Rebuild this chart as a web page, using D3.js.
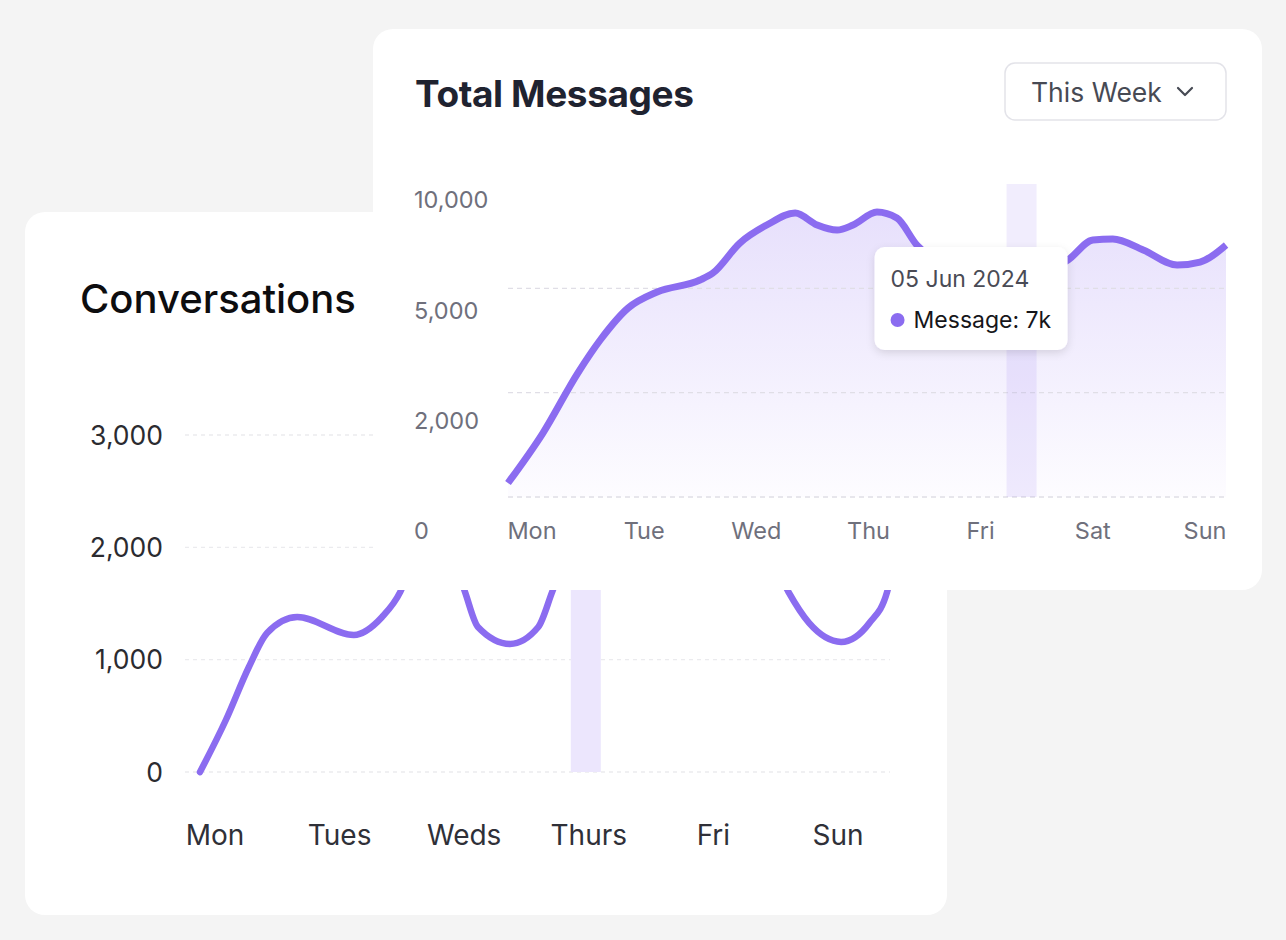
<!DOCTYPE html>
<html>
<head>
<meta charset="utf-8">
<script src="https://cdn.jsdelivr.net/npm/d3@7"></script>
<style>
  html, body { margin: 0; padding: 0; background: #f4f4f4; }
  svg { display: block; font-family: Inter, 'Noto Sans', sans-serif; }
</style>
</head>
<body>
<svg id="chart" width="1286" height="940"></svg>
<script>
// ---- Conversations (back card) ----
const convDays = ['Mon', 'Tues', 'Weds', 'Thurs', 'Fri', 'Sun'];
const convTicks = [0, 1000, 2000, 3000];
// hours from start of week, and value at that time
const convHours  = [0, 5.4, 10.2, 14, 20.3, 32.1, 38, 41.8, 48.4, 55.3, 58, 64.7, 70.6, 73.5, 83.5, 98.1, 110.6, 122.8, 127.1, 133.8, 139.7, 143.4, 144];
const convValues = [0, 463, 935, 1238, 1380, 1220, 1380, 1603, 2500, 1603, 1291, 1140, 1291, 1603, 2800, 2300, 2900, 1603, 1327, 1158, 1327, 1603, 1700];
const convHighlight = 'Thurs';

// ---- Total Messages (front card) ----
const msgDays = ['Mon', 'Tue', 'Wed', 'Thu', 'Fri', 'Sat', 'Sun'];
const msgTickLabels = ['10,000', '5,000', '2,000', '0'];
const msgGridValues = [0, 3000, 6000];
const msgHours  = [0, 7, 14, 18.5, 24.1, 29.9, 38.5, 41.1, 46.5, 51.9, 57.6, 62, 66, 69.2, 74, 78, 82, 88.6, 98.7, 106.7, 112.3, 117.3, 121.3, 127.4, 134.2, 138.8, 144];
const msgValues = [403, 1840, 3565, 4514, 5434, 5894, 6239, 6440, 7303, 7820, 8165, 7820, 7676, 7820, 8194, 8021, 7245, 6600, 6250, 6450, 6814, 7389, 7418, 7101, 6670, 6756, 7245];
const msgHighlightHour = 103;
const tooltipDate = '05 Jun 2024';
const tooltipSeries = 'Message';
const tooltipValue = 7000;
const rangeLabel = 'This Week';

const LINE = '#8b6cf0';
const svg = d3.select('#chart');
const defs = svg.append('defs');

const grad = defs.append('linearGradient')
  .attr('id', 'msgFill').attr('x1', 0).attr('y1', 0).attr('x2', 0).attr('y2', 1);
grad.append('stop').attr('offset', '0%').attr('stop-color', '#e7e0fc');
grad.append('stop').attr('offset', '100%').attr('stop-color', '#fdfcff');

const shadow = defs.append('filter').attr('id', 'tipShadow')
  .attr('x', '-20%').attr('y', '-20%').attr('width', '140%').attr('height', '150%');
shadow.append('feDropShadow')
  .attr('dx', 0).attr('dy', 3).attr('stdDeviation', 4)
  .attr('flood-color', '#000').attr('flood-opacity', 0.12);

// ================= Conversations card =================
const conv = svg.append('g').attr('class', 'conversations');

conv.append('rect')
  .attr('x', 25).attr('y', 212).attr('width', 922).attr('height', 703)
  .attr('rx', 20).attr('fill', '#fff');

conv.append('text')
  .attr('x', 80).attr('y', 313)
  .style('font-size', '40px').style('font-weight', 500).style('fill', '#0d0d0f')
  .text('Conversations');

const yConv = d3.scaleLinear().domain([0, 3000]).range([772, 435]);
const xConv = d3.scaleLinear().domain([0, 144]).range([200, 890]);
const xConvLabel = d3.scalePoint().domain(convDays).range([215, 838]);

conv.append('g').selectAll('line')
  .data(convTicks).enter().append('line')
  .attr('x1', 185).attr('x2', 890)
  .attr('y1', d => yConv(d)).attr('y2', d => yConv(d))
  .attr('stroke', '#ebebee').attr('stroke-width', 1.3)
  .attr('stroke-dasharray', '4 4');

conv.append('g').selectAll('text')
  .data(convTicks).enter().append('text')
  .attr('x', 163).attr('y', d => yConv(d)).attr('dy', '0.36em')
  .attr('text-anchor', 'end')
  .style('font-size', '26.5px').style('fill', '#2b2b30')
  .text(d3.format(','));

conv.append('g').selectAll('text')
  .data(convDays).enter().append('text')
  .attr('x', d => xConvLabel(d)).attr('y', 845)
  .attr('text-anchor', 'middle')
  .style('font-size', '28px').style('fill', '#2f3038')
  .text(d => d);

conv.append('rect')
  .attr('x', xConvLabel(convHighlight) - 18).attr('width', 30)
  .attr('y', yConv(3000)).attr('height', yConv(0) - yConv(3000))
  .attr('fill', '#ece6fd');

const convLine = d3.line()
  .x((d, i) => xConv(convHours[i]))
  .y(d => yConv(d))
  .curve(d3.curveMonotoneX);

conv.append('path')
  .datum(convValues)
  .attr('d', convLine)
  .attr('fill', 'none').attr('stroke', LINE)
  .attr('stroke-width', 6.5).attr('stroke-linecap', 'round').attr('stroke-linejoin', 'round');

// ================= Total Messages card =================
const msg = svg.append('g').attr('class', 'messages');

msg.append('rect')
  .attr('x', 373).attr('y', 29).attr('width', 889).attr('height', 561)
  .attr('rx', 20).attr('fill', '#fff');

msg.append('text')
  .attr('x', 415).attr('y', 107)
  .style('font-size', '37px').style('font-weight', 700).style('fill', '#1f2330')
  .style('letter-spacing', '-0.4px')
  .text('Total Messages');

// dropdown
msg.append('rect')
  .attr('x', 1005).attr('y', 63).attr('width', 221).attr('height', 57)
  .attr('rx', 10).attr('fill', '#fff')
  .attr('stroke', '#e3e3e9').attr('stroke-width', 1.5);
msg.append('text')
  .attr('x', 1031).attr('y', 101.5)
  .style('font-size', '26.5px').style('fill', '#474a54')
  .text(rangeLabel);
msg.append('path')
  .attr('d', 'M1178,88 L1185,95 L1192,88')
  .attr('fill', 'none').attr('stroke', '#474a54')
  .attr('stroke-width', 2.2).attr('stroke-linecap', 'round').attr('stroke-linejoin', 'round');

const yMsg = d3.scaleLinear().domain([0, 9000]).range([497, 184]);
const xMsg = d3.scaleLinear().domain([0, 144]).range([508, 1226]);
const xMsgLabel = d3.scalePoint().domain(msgDays).range([532, 1205]);
const yMsgLabel = d3.scalePoint().domain(msgTickLabels).range([200, 531]);

// area
const msgArea = d3.area()
  .x((d, i) => xMsg(msgHours[i]))
  .y0(yMsg(0))
  .y1(d => yMsg(d))
  .curve(d3.curveMonotoneX);

msg.append('path')
  .datum(msgValues)
  .attr('d', msgArea)
  .attr('fill', 'url(#msgFill)');

msg.append('g').selectAll('line')
  .data(msgGridValues).enter().append('line')
  .attr('x1', 508).attr('x2', 1226)
  .attr('y1', d => yMsg(d)).attr('y2', d => yMsg(d))
  .attr('stroke', '#e0dee6').attr('stroke-width', 1.3)
  .attr('stroke-dasharray', '5 4');

msg.append('g').selectAll('text')
  .data(msgTickLabels).enter().append('text')
  .attr('x', 414).attr('y', d => yMsgLabel(d)).attr('dy', '0.36em')
  .style('font-size', '23.5px').style('fill', '#6f707c')
  .text(d => d);

msg.append('g').selectAll('text')
  .data(msgDays).enter().append('text')
  .attr('x', d => xMsgLabel(d)).attr('y', 531).attr('dy', '0.36em')
  .attr('text-anchor', 'middle')
  .style('font-size', '23.5px').style('fill', '#6f707c')
  .text(d => d);

// hover column
msg.append('rect')
  .attr('x', xMsg(msgHighlightHour) - 15).attr('width', 30)
  .attr('y', yMsg(9000)).attr('height', yMsg(0) - yMsg(9000))
  .attr('fill', LINE).attr('fill-opacity', 0.12);

const msgLine = d3.line()
  .x((d, i) => xMsg(msgHours[i]))
  .y(d => yMsg(d))
  .curve(d3.curveMonotoneX);

msg.append('path')
  .datum(msgValues)
  .attr('d', msgLine)
  .attr('fill', 'none').attr('stroke', LINE)
  .attr('stroke-width', 7).attr('stroke-linejoin', 'round');

// tooltip
const tipX = xMsg(msgHighlightHour) - 147;
const tip = msg.append('g').attr('transform', `translate(${tipX},247)`);
tip.append('rect')
  .attr('width', 193).attr('height', 103).attr('rx', 10)
  .attr('fill', '#fff').attr('filter', 'url(#tipShadow)');
tip.append('text')
  .attr('x', 16).attr('y', 40)
  .style('font-size', '23px').style('fill', '#4a4b55')
  .text(tooltipDate);
tip.append('circle')
  .attr('cx', 23).attr('cy', 73).attr('r', 7).attr('fill', LINE);
tip.append('text')
  .attr('x', 39).attr('y', 81)
  .style('font-size', '23px').style('fill', '#16161a')
  .text(`${tooltipSeries}: ${d3.format('~s')(tooltipValue)}`);
</script>
</body>
</html>
